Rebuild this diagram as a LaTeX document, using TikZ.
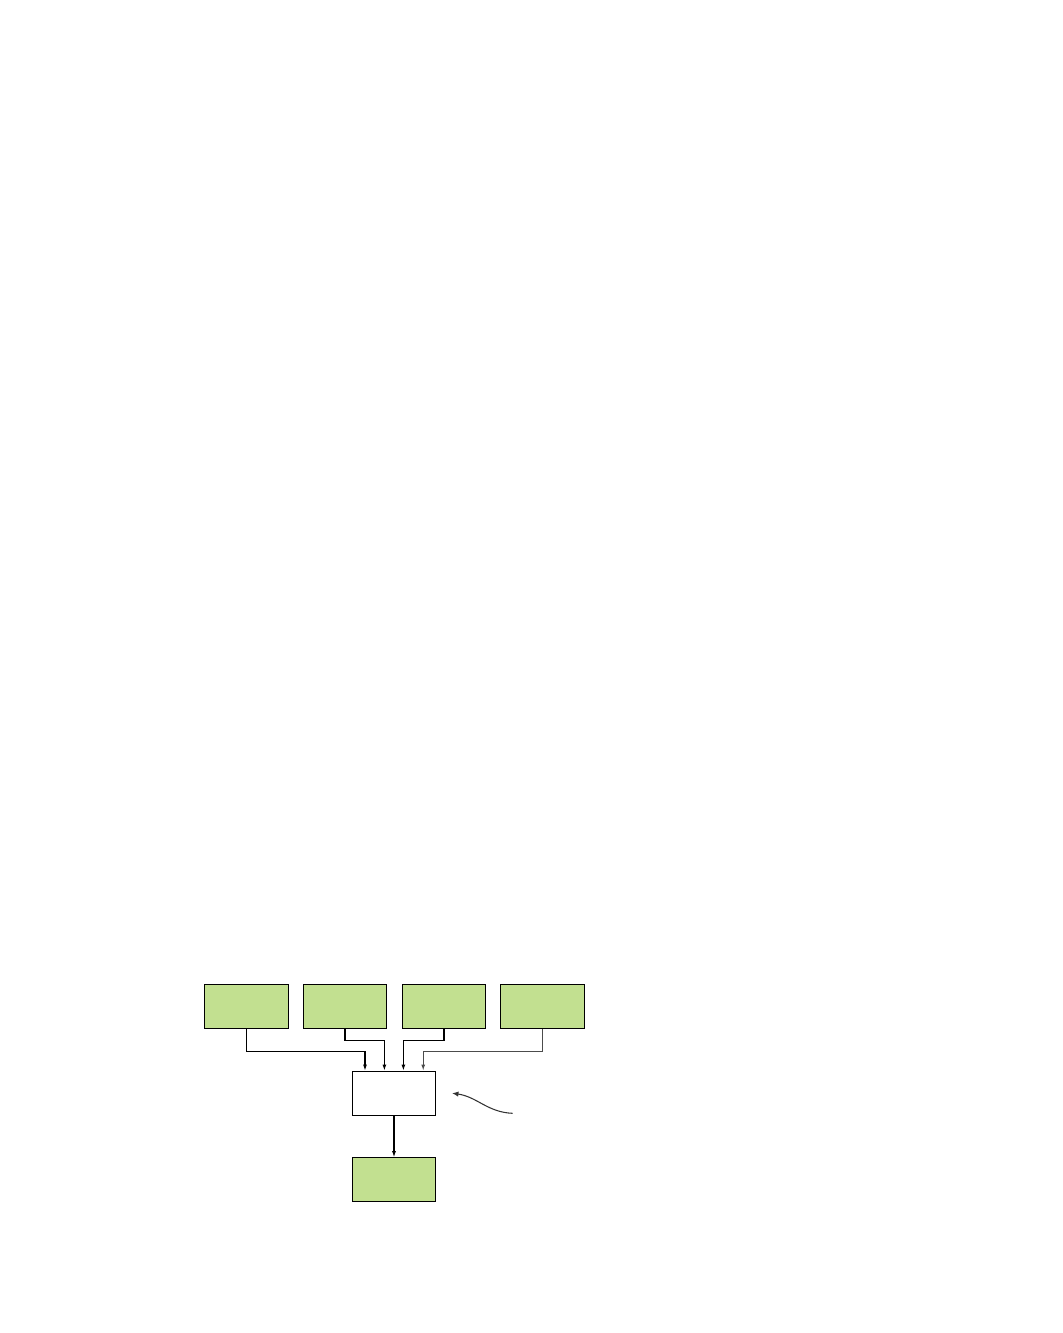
\documentclass[tikz,border=0pt]{standalone}
\usepackage{xcolor}
\usetikzlibrary{arrows.meta}
\definecolor{boxgreen}{RGB}{194,224,144}

\begin{document}
\begin{tikzpicture}[x=0.025cm,y=-0.025cm,line width=0.75pt,
    box/.style={draw,rectangle,minimum width=2.08cm,minimum height=1.1cm,inner sep=0pt},
    arr/.style={-{Latex[length=4.3pt,width=2.8pt]}}]
    \useasboundingbox (0,0) rectangle (1063,1333);
    \node[box,fill=boxgreen] (1) at (246.5,1006.8) {};
    \node[box,fill=boxgreen] (2) at (345,1006.8) {};
    \node[box,fill=boxgreen] (3) at (444,1006.8) {};
    \node[box,fill=boxgreen] (4) at (542.5,1006.8) {};
    \node[box] (mid) at (394,1093.2) {};
    \node[box,fill=boxgreen] (out) at (394,1179.8) {};
    \coordinate (note) at (512.7,1113.3);
    \draw[arr] (1.south) -- ++(0,22) -| ([xshift=-0.725cm]mid.north);
    \draw[arr] (2.south) -- ++(0,11) -| ([xshift=-0.24cm]mid.north);
    \draw[arr] (3.south) -- ++(0,11) -| ([xshift=0.235cm]mid.north);
    \draw[arr,black!70] (4.south) -- ++(0,22) -| ([xshift=0.73cm]mid.north);
    \draw[arr] (mid) to (out);
    \draw[-{Latex[length=4.5pt,width=3.8pt]},black!80] (note) to [out=178,in=-8] ([xshift=0.4cm]mid.east);
\end{tikzpicture}
\end{document}
